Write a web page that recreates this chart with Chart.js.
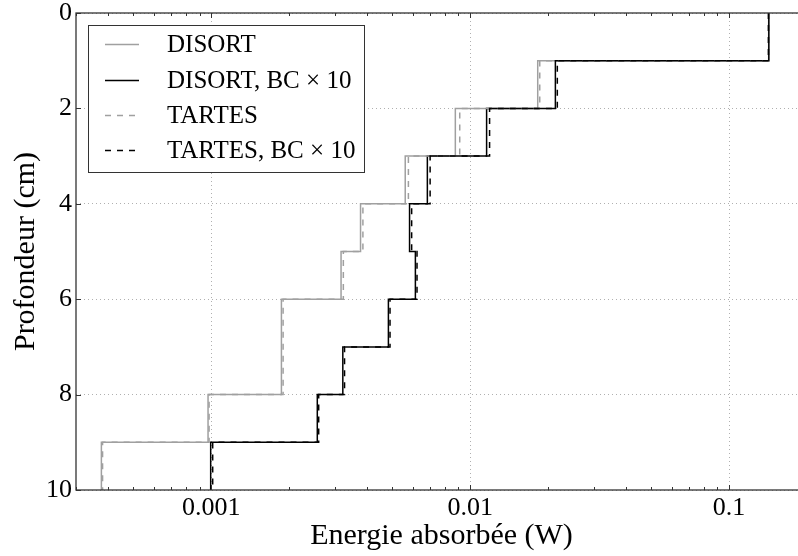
<!DOCTYPE html>
<html>
<head>
<meta charset="utf-8">
<script src="https://cdn.jsdelivr.net/npm/chart.js@4/dist/chart.umd.min.js"></script>
<style>
html,body{margin:0;padding:0;background:#fff;overflow:hidden;width:798px;height:556px;}
canvas{display:block;}
</style>
</head>
<body>
<canvas id="c" width="812" height="556"></canvas>
<script>
// Layer depths (cm): layer i spans depth i to i+1
const depths = [0,1,2,3,4,5,6,7,8,9,10];
const seriesNames = ["DISORT", "DISORT, BC \u00d7 10", "TARTES", "TARTES, BC \u00d7 10"];
// Absorbed energy per 1-cm layer (W)
const disort     = [0.1422, 0.01823, 0.00876, 0.00561, 0.00377, 0.00317, 0.001865, 0.001865, 0.000971, 0.000376];
const disortBC   = [0.1424, 0.02133, 0.01157, 0.00683, 0.00583, 0.00614, 0.00483, 0.00322, 0.002566, 0.000994];
const tartes     = [0.1418, 0.01856, 0.00911, 0.00577, 0.00385, 0.003235, 0.001893, 0.001893, 0.00098, 0.00038];
const tartesBC   = [0.1420, 0.02170, 0.01188, 0.00700, 0.00594, 0.00623, 0.00490, 0.00327, 0.002598, 0.001012];
const xTicks = [0.001, 0.01, 0.1];
const xTickLabels = ["0.001", "0.01", "0.1"];
const yTicks = [0, 2, 4, 6, 8, 10];

function profile(vals){
  const pts = vals.map((v,i)=>({x:v, y:depths[i]}));
  pts.push({x:vals[vals.length-1], y:depths[depths.length-1]});
  return pts;
}

const SERIF = "'Liberation Serif','DejaVu Serif',serif";
const styles = [
  {color:'#a0a0a0', dash:[]},
  {color:'#000000', dash:[]},
  {color:'#a0a0a0', dash:[6,6]},
  {color:'#000000', dash:[6,6]}
];
const allVals = [disort, disortBC, tartes, tartesBC];

const datasets = allVals.map((vals,k)=>({
  label: seriesNames[k],
  data: profile(vals),
  showLine: true,
  stepped: 'after',
  borderColor: styles[k].color,
  borderDash: styles[k].dash,
  borderWidth: 1.5,
  pointRadius: 0,
  fill: false,
  order: 4-k
}));

const frameAndTicks = {
  id:'frameAndTicks',
  afterDatasetsDraw(chart){
    const ctx = chart.ctx, a = chart.chartArea;
    const xs = chart.scales.x, ys = chart.scales.y;
    ctx.save();
    ctx.strokeStyle = '#333';
    ctx.lineWidth = 1;
    ctx.setLineDash([]);
    ctx.beginPath();
    xTicks.forEach(v=>{
      const px = Math.round(xs.getPixelForValue(v))+0.5;
      ctx.moveTo(px,a.bottom); ctx.lineTo(px,a.bottom-5);
      ctx.moveTo(px,a.top); ctx.lineTo(px,a.top+5);
    });
    for(let e=-4;e<=0;e++){
      for(let m=2;m<=9;m++){
        const v = m*Math.pow(10,e);
        if(v<xs.min||v>xs.max) continue;
        const px = Math.round(xs.getPixelForValue(v))+0.5;
        ctx.moveTo(px,a.bottom); ctx.lineTo(px,a.bottom-3);
        ctx.moveTo(px,a.top); ctx.lineTo(px,a.top+3);
      }
    }
    yTicks.forEach(v=>{
      const py = Math.round(ys.getPixelForValue(v))+0.5;
      ctx.moveTo(a.left,py); ctx.lineTo(a.left+5,py);
      ctx.moveTo(a.right,py); ctx.lineTo(a.right-5,py);
    });
    ctx.stroke();
    ctx.lineWidth = 1.3;
    ctx.strokeRect(a.left, a.top, a.right-a.left, a.bottom-a.top);
    ctx.restore();
  },
  afterDraw(chart){
    const ctx = chart.ctx;
    const bx = 88, by = 25, bw = 276, bh = 147;
    ctx.save();
    ctx.fillStyle = '#fff';
    ctx.fillRect(bx,by,bw,bh);
    ctx.strokeStyle = '#333';
    ctx.lineWidth = 1;
    ctx.setLineDash([]);
    ctx.strokeRect(bx+0.5,by+0.5,bw,bh);
    const rowY = [44, 80, 115, 150];
    chart.data.datasets.forEach((ds,i)=>{
      const y = rowY[i];
      ctx.beginPath();
      ctx.strokeStyle = ds.borderColor;
      ctx.lineWidth = ds.borderWidth;
      ctx.setLineDash(ds.borderDash);
      ctx.moveTo(105,y+0.5); ctx.lineTo(139,y+0.5);
      ctx.stroke();
      ctx.setLineDash([]);
      ctx.fillStyle = '#000';
      ctx.font = "25px " + SERIF;
      ctx.textBaseline = 'middle';
      ctx.textAlign = 'left';
      ctx.fillText(ds.label, 167, y+1);
    });
    ctx.restore();
  }
};

new Chart(document.getElementById('c'), {
  type: 'scatter',
  data: {datasets},
  options: {
    responsive: false,
    animation: false,
    layout: {padding: {left:0, top:13, right:5, bottom:0}},
    plugins: {legend:{display:false}, tooltip:{enabled:false}},
    scales: {
      x: {
        type: 'logarithmic',
        min: 0.000308,
        max: 0.2,
        afterBuildTicks(scale){ scale.ticks = xTicks.map(v=>({value:v})); },
        afterFit(scale){ scale.height = 66; scale.paddingLeft = 0; scale.paddingRight = 0; },
        ticks: {
          color:'#000',
          font:{family:SERIF, size:26},
          padding: 3,
          maxRotation: 0,
          autoSkip: false,
          callback(v){ const i = xTicks.indexOf(v); return i>=0 ? xTickLabels[i] : ''; }
        },
        grid: {color:'#b0b0b0', drawTicks:false, lineWidth:1},
        border: {display:false, dash:[1,3]},
        title: {display:true, text:'Energie absorbée (W)', color:'#000', font:{family:SERIF, size:30}, padding:{top:0,bottom:2}}
      },
      y: {
        type: 'linear',
        reverse: true,
        min: 0,
        max: 10,
        afterBuildTicks(scale){ scale.ticks = yTicks.map(v=>({value:v})); },
        afterFit(scale){ scale.width = 76; scale.paddingTop = 0; scale.paddingBottom = 0; },
        ticks: {color:'#000', font:{family:SERIF, size:26}, padding:4},
        grid: {color:'#b0b0b0', drawTicks:false, lineWidth:1},
        border: {display:false, dash:[1,3]},
        title: {display:true, text:'Profondeur (cm)', color:'#000', font:{family:SERIF, size:30}, padding:{top:8,bottom:0}}
      }
    }
  },
  plugins: [frameAndTicks]
});
</script>
</body>
</html>
